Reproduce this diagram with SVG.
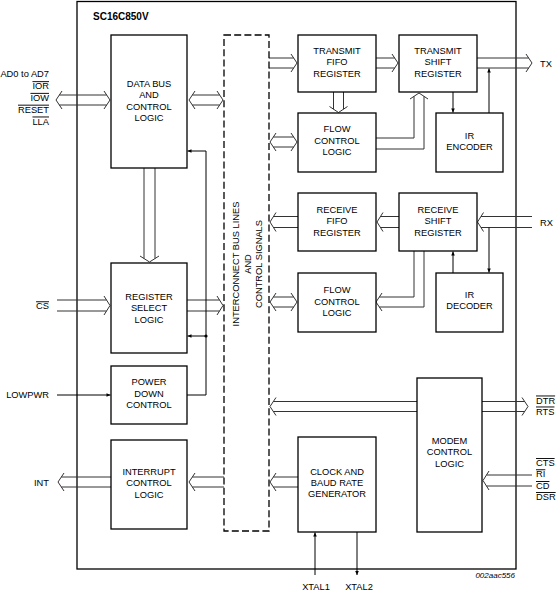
<svg xmlns="http://www.w3.org/2000/svg" width="559" height="601" viewBox="0 0 559 601">
<style>
.box{fill:#fff;stroke:#000;stroke-width:1.3}
.dash{fill:none;stroke:#000;stroke-width:1.3;stroke-dasharray:7,3.2}
.bus{fill:none;stroke:#333;stroke-width:1}
.sig{fill:none;stroke:#000;stroke-width:1}
text{font-family:"Liberation Sans",Arial,sans-serif;font-size:9.3px;fill:#000}
.c{text-anchor:middle}
.r{text-anchor:end}
.ol{text-decoration:overline}
</style>
<defs>
<marker id="ah" viewBox="0 0 10 10" refX="10" refY="5" markerWidth="4.5" markerHeight="4" orient="auto" markerUnits="userSpaceOnUse"><path d="M0,0.5 L10,5 L0,9.5 z" fill="#000"/></marker>
</defs>
<rect id="chip" x="77" y="1.5" width="439" height="567.5" fill="none" stroke="#000" stroke-width="1.3"/>
<text x="93" y="20" style="font-weight:bold;font-size:10px">SC16C850V</text>

<g id="connectors">
<g class="bus">
<path d="M62,91 L56,100 L62,109 M104,91 L110,100 L104,109 M59.3,95 H106.7 M59.3,105 H106.7"/>
<path d="M195,91 L189,100 L195,109 M217,91 L223,100 L217,109 M192.3,95 H219.7 M192.3,105 H219.7"/>
<path d="M144,168 V258.5 M155,168 V258.5 M140,256 L149.5,262 L159,256"/>
<path d="M57,300 H106.5 M57,311 H106.5 M104,296 L110,305.5 L104,315"/>
<path d="M187,300 H219.5 M187,311 H219.5 M217,296 L223,305.5 L217,315"/>
<path d="M111,477 H61.3 M111,487 H61.3 M64,473 L58,482 L64,491"/>
<path d="M224,477 H192.3 M224,487 H192.3 M195,473 L189,482 L195,491"/>
<path d="M269,58 H293.7 M269,68 H293.7 M291,54 L297,63 L291,72"/>
<path d="M376,58 H394.7 M376,68 H394.7 M392,54 L398,63 L392,72"/>
<path d="M477,58 H528.7 M477,68 H528.7 M526,54 L532,63 L526,72"/>
<path d="M333.5,92 V109.2 M343.5,92 V109.2 M329.5,106.5 L338.5,112.5 L347.5,106.5"/>
<path d="M276,133 L270,142 L276,151 M291,133 L297,142 L291,151 M273.3,137 H293.7 M273.3,147 H293.7"/>
<path d="M376,138 H414 V96.3 M376,149 H424 V96.3 M410,99 L419,93 L428,99"/>
<path d="M298,216.5 H273.5 M298,227.5 H273.5 M276,212.5 L270,222 L276,231.5"/>
<path d="M399,216.5 H380.5 M399,227.5 H380.5 M383,212.5 L377,222 L383,231.5"/>
<path d="M532,216.5 H481 M532,227.5 H481 M483.5,212.5 L477.5,222 L483.5,231.5"/>
<path d="M414,251 V297 H379.3 M424,251 V307 H379.3 M382,293 L376,302 L382,311"/>
<path d="M276,293 L270,302 L276,311 M291,293 L297,302 L291,311 M273.3,297 H293.7 M273.3,307 H293.7"/>
<path d="M417,401.5 H273.3 M417,411.5 H273.3 M276,397.5 L270,406.5 L276,415.5"/>
<path d="M482,401.5 H524.7 M482,411.5 H524.7 M522,397.5 L528,406.5 L522,415.5"/>
<path d="M532,475 H486.5 M532,486 H486.5 M489,471 L483,480.5 L489,490"/>
<path d="M298,477 H273.3 M298,487 H273.3 M276,473 L270,482 L276,491"/>
</g>
<g class="sig">
<path d="M187,395 H206 V151 H187.5" marker-end="url(#ah)"/>
<path d="M206,336 H187.5" marker-end="url(#ah)"/>
<path d="M57,395 H110.5" marker-end="url(#ah)"/>
<path d="M453,92 V112.5" marker-end="url(#ah)"/>
<path d="M489,113 V68.5" marker-end="url(#ah)"/>
<path d="M489,227.5 V272.5" marker-end="url(#ah)"/>
<path d="M453,273 V251.5" marker-end="url(#ah)"/>
<path d="M315,575 V532.5" marker-end="url(#ah)"/>
<path d="M357,532 V575" marker-end="url(#ah)"/>
</g>
<circle cx="206" cy="336" r="1.6" fill="#000"/>
</g>

<g id="databus"><rect class="box" x="111" y="35" width="76" height="133"/>
<text class="c" x="149" y="87">DATA BUS</text><text class="c" x="149" y="98.3">AND</text><text class="c" x="149" y="109.6">CONTROL</text><text class="c" x="149" y="120.9">LOGIC</text></g>
<g id="regselect"><rect class="box" x="111" y="263" width="76" height="90"/>
<text class="c" x="149" y="300">REGISTER</text><text class="c" x="149" y="311.3">SELECT</text><text class="c" x="149" y="322.6">LOGIC</text></g>
<g id="powerdown"><rect class="box" x="111" y="366" width="76" height="58"/>
<text class="c" x="149" y="385">POWER</text><text class="c" x="149" y="396.5">DOWN</text><text class="c" x="149" y="408">CONTROL</text></g>
<g id="interrupt"><rect class="box" x="111" y="440" width="76" height="89"/>
<text class="c" x="149" y="475">INTERRUPT</text><text class="c" x="149" y="486.3">CONTROL</text><text class="c" x="149" y="497.6">LOGIC</text></g>
<g id="interconnect"><rect class="dash" x="224" y="35" width="45" height="496"/>
<g transform="translate(246.5,264) rotate(-90)"><text class="c" x="0" y="-7.5">INTERCONNECT BUS LINES</text><text class="c" x="0" y="4">AND</text><text class="c" x="0" y="15.5">CONTROL SIGNALS</text></g></g>
<g id="txfifo"><rect class="box" x="298" y="35" width="78" height="57"/>
<text class="c" x="337" y="54">TRANSMIT</text><text class="c" x="337" y="65.3">FIFO</text><text class="c" x="337" y="76.6">REGISTER</text></g>
<g id="txshift"><rect class="box" x="399" y="35" width="78" height="57"/>
<text class="c" x="438" y="54">TRANSMIT</text><text class="c" x="438" y="65.3">SHIFT</text><text class="c" x="438" y="76.6">REGISTER</text></g>
<g id="txflow"><rect class="box" x="298" y="113" width="78" height="59"/>
<text class="c" x="337" y="132.3">FLOW</text><text class="c" x="337" y="143.6">CONTROL</text><text class="c" x="337" y="155">LOGIC</text></g>
<g id="irenc"><rect class="box" x="436" y="113" width="67" height="59"/>
<text class="c" x="469.5" y="138.7">IR</text><text class="c" x="469.5" y="150">ENCODER</text></g>
<g id="rxfifo"><rect class="box" x="298" y="193" width="78" height="58"/>
<text class="c" x="337" y="213">RECEIVE</text><text class="c" x="337" y="224.3">FIFO</text><text class="c" x="337" y="235.6">REGISTER</text></g>
<g id="rxshift"><rect class="box" x="399" y="193" width="78" height="58"/>
<text class="c" x="438" y="213">RECEIVE</text><text class="c" x="438" y="224.3">SHIFT</text><text class="c" x="438" y="235.6">REGISTER</text></g>
<g id="rxflow"><rect class="box" x="298" y="273" width="78" height="59"/>
<text class="c" x="337" y="293.3">FLOW</text><text class="c" x="337" y="304.6">CONTROL</text><text class="c" x="337" y="316">LOGIC</text></g>
<g id="irdec"><rect class="box" x="436" y="273" width="67" height="59"/>
<text class="c" x="469.5" y="297.6">IR</text><text class="c" x="469.5" y="309">DECODER</text></g>
<g id="modem"><rect class="box" x="417" y="378" width="65" height="154"/>
<text class="c" x="449.5" y="444">MODEM</text><text class="c" x="449.5" y="455.3">CONTROL</text><text class="c" x="449.5" y="466.6">LOGIC</text></g>
<g id="clock"><rect class="box" x="298" y="437" width="78" height="95"/>
<text class="c" x="337" y="474.5">CLOCK AND</text><text class="c" x="337" y="485.8">BAUD RATE</text><text class="c" x="337" y="497">GENERATOR</text></g>

<g id="labels">
<text class="r" x="49" y="77.3">AD0 to AD7</text>
<text class="r ol" x="49" y="89.2">IOR</text>
<text class="r ol" x="49" y="100.9">IOW</text>
<text class="r ol" x="49" y="112.7">RESET</text>
<text class="r ol" x="49" y="124.5">LLA</text>
<text class="r ol" x="49" y="309.3">CS</text>
<text class="r" x="49" y="398.3">LOWPWR</text>
<text class="r" x="49" y="485.5">INT</text>
<text x="540" y="66.7">TX</text>
<text x="540" y="225.5">RX</text>
<text class="ol" x="536" y="403.5">DTR</text>
<text class="ol" x="536" y="414.5">RTS</text>
<text class="ol" x="536" y="466">CTS</text>
<text class="ol" x="536" y="477.3">RI</text>
<text class="ol" x="536" y="489">CD</text>
<text class="ol" x="536" y="500">DSR</text>
<text class="c" x="316" y="590">XTAL1</text>
<text class="c" x="359" y="590">XTAL2</text>
<text class="r" x="515" y="578.3" style="font-style:italic;font-size:8px">002aac556</text>
</g>
</svg>
